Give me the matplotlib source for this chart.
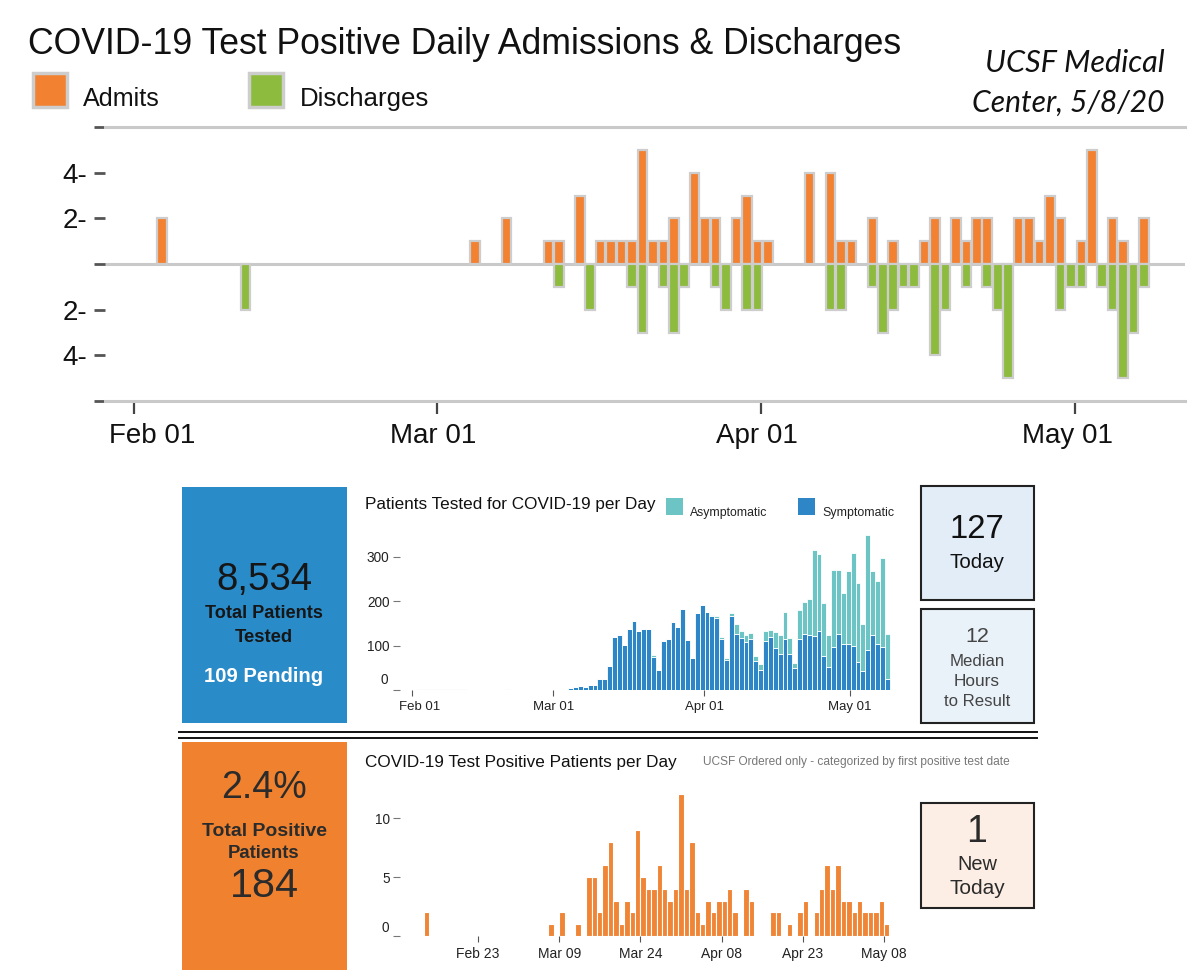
import matplotlib
matplotlib.use("Agg")
import matplotlib.pyplot as plt
import matplotlib.dates as mdates
import pandas as pd
from matplotlib.patches import Rectangle
from matplotlib.transforms import ScaledTranslation

plt.rcParams["font.family"] = ["Liberation Sans", "DejaVu Sans"]

# ── data ──
admit_dates = ["2020-02-03", "2020-03-04", "2020-03-07", "2020-03-11", "2020-03-12", "2020-03-14",
               "2020-03-16", "2020-03-17", "2020-03-18", "2020-03-19", "2020-03-20", "2020-03-21",
               "2020-03-22", "2020-03-23", "2020-03-25", "2020-03-26", "2020-03-27", "2020-03-29",
               "2020-03-30", "2020-03-31", "2020-04-01", "2020-04-05", "2020-04-07", "2020-04-08",
               "2020-04-09", "2020-04-11", "2020-04-13", "2020-04-16", "2020-04-17", "2020-04-19",
               "2020-04-20", "2020-04-21", "2020-04-22", "2020-04-25", "2020-04-26", "2020-04-27",
               "2020-04-28", "2020-04-29", "2020-05-01", "2020-05-02", "2020-05-04", "2020-05-05",
               "2020-05-07"]
admit_counts = [2, 1, 2, 1, 1, 3, 1, 1, 1, 1, 5, 1, 1, 2, 4, 2, 2, 2, 3, 1, 1, 4, 4, 1, 1, 2,
                1, 1, 2, 2, 1, 2, 2, 2, 2, 1, 3, 2, 1, 5, 2, 1, 2]

discharge_dates = ["2020-02-11", "2020-03-12", "2020-03-15", "2020-03-19", "2020-03-20", "2020-03-22",
                   "2020-03-23", "2020-03-24", "2020-03-27", "2020-03-28", "2020-03-30", "2020-03-31",
                   "2020-04-07", "2020-04-08", "2020-04-11", "2020-04-12", "2020-04-13", "2020-04-14",
                   "2020-04-15", "2020-04-17", "2020-04-18", "2020-04-20", "2020-04-22", "2020-04-23",
                   "2020-04-24", "2020-04-29", "2020-04-30", "2020-05-01", "2020-05-03", "2020-05-04",
                   "2020-05-05", "2020-05-06", "2020-05-07"]
discharge_counts = [2, 1, 2, 1, 3, 1, 3, 1, 1, 2, 2, 2, 2, 2, 1, 3, 2, 1, 1, 4, 2, 1, 1, 2, 5,
                    2, 1, 1, 1, 2, 5, 3, 1]

tested_dates = pd.date_range("2020-03-04", "2020-05-08")
tested_symptomatic = [5, 7, 9, 7, 12, 12, 25, 25, 54, 119,
                      124, 102, 138, 156, 133, 138, 138, 74, 46, 110,
                      114, 154, 141, 182, 113, 73, 174, 192, 176, 166,
                      162, 114, 68, 166, 127, 118, 108, 115, 66, 45,
                      111, 119, 95, 82, 115, 82, 49, 115, 127, 124,
                      122, 133, 76, 52, 96, 126, 103, 103, 99, 64,
                      43, 90, 124, 103, 97, 25]
tested_asymptomatic = [0, 0, 0, 0, 0, 0, 0, 0, 0, 0,
                       0, 0, 0, 0, 0, 0, 0, 4, 0, 0,
                       0, 0, 0, 0, 0, 0, 0, 0, 0, 3,
                       4, 5, 5, 8, 21, 15, 15, 14, 10, 13,
                       22, 17, 35, 41, 60, 36, 11, 66, 72, 80,
                       193, 173, 119, 72, 175, 145, 116, 164, 210, 177,
                       105, 258, 143, 143, 200, 102]
# faint near-zero marks before March
trace_dates = ["2020-02-02", "2020-02-03", "2020-02-04", "2020-02-05", "2020-02-06", "2020-02-07",
               "2020-02-08", "2020-02-09", "2020-02-10", "2020-02-11", "2020-02-20"]
trace_counts = [2, 2, 2, 2, 2, 2, 2, 2, 2, 2, 2]

positive_first_date = ["2020-02-13"]
positive_first_count = [2]
positive_dates = pd.date_range("2020-03-07", "2020-05-08")
positive_counts = [1, 0, 2, 0, 0,
                   1, 0, 5, 5, 2, 6, 8, 3, 1, 3,
                   2, 9, 5, 4, 4, 6, 4, 3, 4, 12,
                   4, 8, 2, 1, 3, 2, 3, 3, 4, 2,
                   0, 4, 3, 0, 0, 0, 2, 2, 0, 1,
                   0, 2, 3, 0, 2, 4, 6, 4, 6, 3,
                   3, 2, 3, 2, 2, 2, 3, 1]

top_ticks = ["2020-02-01", "2020-03-01", "2020-04-01", "2020-05-01"]
top_tick_labels = ["Feb 01", "Mar 01", "Apr 01", "May 01"]
pos_ticks = ["2020-02-23", "2020-03-09", "2020-03-24", "2020-04-08", "2020-04-23", "2020-05-08"]
pos_tick_labels = ["Feb 23", "Mar 09", "Mar 24", "Apr 08", "Apr 23", "May 08"]

# ── styles ──
ORANGE = "#f28131"; GREEN = "#8dbb3d"; EDGE = "#cdcdcd"; GRID = "#c9c9c9"
BLUE_BOX = "#2a8bc9"; ORANGE_BOX = "#f0822f"
SYM = "#2e86c7"; ASYM = "#6dc4c4"; POS = "#ef8535"

W, H = 1200, 976
fig = plt.figure(figsize=(W / 100, H / 100), dpi=100)
ov = fig.add_axes([0, 0, 1, 1])
ov.set_xlim(0, W); ov.set_ylim(H, 0); ov.axis("off")
RND = fig.canvas.get_renderer()


def px_axes(l, t, r, b):
    ax = fig.add_axes([l / W, 1 - b / H, (r - l) / W, (b - t) / H])
    ax.patch.set_alpha(0)
    return ax


def dnum(dates, shift=0.0):
    return mdates.date2num(pd.to_datetime(dates)) + shift


def txt(x, y, s, w=None, size=10, ha="center", **kw):
    t = ov.text(x, y, s, ha=ha, va="center", fontsize=size, **kw)
    if w:
        bw = t.get_window_extent(renderer=RND).width
        t.set_fontsize(size * w / bw)
    return t


def shift_label(lab, dx_px):
    lab.set_transform(lab.get_transform() + ScaledTranslation(dx_px / 100, 0, fig.dpi_scale_trans))


FEB1 = mdates.date2num(pd.Timestamp("2020-02-01"))

# ── header ──
txt(28, 45, "COVID-19 Test Positive Daily Admissions & Discharges", w=875, ha="left", color="#111")
ov.add_patch(Rectangle((33, 73), 34, 34, fc=ORANGE, ec=EDGE, lw=2.5))
ov.add_patch(Rectangle((249, 73), 34, 34, fc=GREEN, ec=EDGE, lw=2.5))
txt(83, 99, "Admits", w=77, ha="left", color="#111")
txt(300, 99, "Discharges", w=130, ha="left", color="#111")
txt(1165, 63, "UCSF Medical", w=180, ha="right", style="italic", family="Lato", color="#111")
txt(1165, 103, "Center, 5/8/20", w=192, ha="right", style="italic", family="Lato", color="#111")

# ── top chart: admits / discharges ──
ax1 = px_axes(105, 127, 1185, 401)
ax1.set_xlim(FEB1 - 2.78, FEB1 + 100.57)
ax1.set_ylim(-6, 6)
ax1.axhline(0, color=GRID, lw=2.2, zorder=1)
ax1.bar(dnum(admit_dates, 0.65), admit_counts, width=0.92, color=ORANGE,
        edgecolor=EDGE, linewidth=1.6, zorder=3)
ax1.bar(dnum(discharge_dates, 0.65), [-v for v in discharge_counts], width=0.92, color=GREEN,
        edgecolor=EDGE, linewidth=1.6, zorder=3)
for s in ["left", "right"]:
    ax1.spines[s].set_visible(False)
for s in ["top", "bottom"]:
    ax1.spines[s].set_color(GRID); ax1.spines[s].set_linewidth(2.2)
ax1.set_yticks([-6, -4, -2, 0, 2, 4, 6])
ax1.set_yticklabels(["", "4-", "2-", "", "2-", "4-", ""], fontsize=20, color="#111")
ax1.tick_params(axis="y", length=8, width=2, color="#555", pad=5)
ax1.set_xticks(dnum(top_ticks))
ax1.set_xticklabels(top_tick_labels, fontsize=20, color="#111")
ax1.tick_params(axis="x", length=9, width=1.6, color="#444", pad=7)
for lab, dx in zip(ax1.get_xticklabels(), [18, -4, -4, -7]):
    shift_label(lab, dx)

# ── middle row ──
ov.add_patch(Rectangle((182, 487), 165, 236, fc=BLUE_BOX, ec="none"))
txt(264, 580, "8,534", w=96, color="#161616")
txt(264, 614, "Total Patients", w=117, weight="bold", color="#161616")
txt(264, 637, "Tested", w=58, weight="bold", color="#161616")
txt(264, 676, "109 Pending", w=120, weight="bold", color="white")

txt(365, 505, "Patients Tested for COVID-19 per Day", w=290, ha="left", color="#111")
ov.add_patch(Rectangle((666, 498), 17, 17, fc=ASYM, ec="none"))
ov.add_patch(Rectangle((798, 498), 17, 17, fc=SYM, ec="none"))
txt(690, 513, "Asymptomatic", w=77, ha="left", color="#222")
txt(822, 513, "Symptomatic", w=72, ha="left", color="#222")

ax2 = px_axes(400, 530, 895, 690)
ax2.set_xlim(FEB1 - 2.46, FEB1 + 99.2)
ax2.set_ylim(0, 360)
ax2.bar(dnum(trace_dates, 0.6), trace_counts, width=1, color="#d4d4d4", edgecolor="white", lw=0.6)
xt = dnum(tested_dates, 0.6)
ax2.bar(xt, tested_symptomatic, width=1, color=SYM, edgecolor="white", lw=0.6)
ax2.bar(xt, tested_asymptomatic, bottom=tested_symptomatic, width=1, color=ASYM,
        edgecolor="white", lw=0.6)
for s in ax2.spines.values():
    s.set_visible(False)
ax2.set_yticks([0, 100, 200, 300])
ax2.set_yticklabels(["", "100", "200", "300"], fontsize=9.8, color="#222")
ax2.tick_params(axis="y", length=5, width=0.8, color="#777", pad=2.5)
ax2.set_xticks(dnum(top_ticks))
ax2.set_xticklabels(top_tick_labels, fontsize=9.5, color="#222")
ax2.tick_params(axis="x", length=4, width=0.8, color="#555", pad=4)
shift_label(ax2.get_xticklabels()[0], 8)
txt(388, 680, "0", size=9.8, ha="right", color="#222")

ov.add_patch(Rectangle((921, 486), 113, 114, fc="#e2edf7", ec="#222", lw=1.5))
txt(977, 530, "127", w=55, color="#111")
txt(977, 563, "Today", w=55, color="#111")
ov.add_patch(Rectangle((921, 609), 113, 114, fc="#e9f1f9", ec="#222", lw=1.5))
txt(977, 636, "12", w=24, color="#444")
txt(977, 662, "Median", w=55, color="#444")
txt(977, 682, "Hours", w=46, color="#444")
txt(977, 702, "to Result", w=66, color="#444")

# double separator
ov.plot([179, 1037], [732, 732], color="#111", lw=1.4)
ov.plot([179, 1037], [738, 738], color="#111", lw=1.4)

# ── bottom row ──
ov.add_patch(Rectangle((182, 742), 165, 228, fc=ORANGE_BOX, ec="none"))
txt(264, 788, "2.4%", w=86, color="#2b2b2b")
txt(264, 831, "Total Positive", w=125, weight="bold", color="#2b2b2b")
txt(264, 854, "Patients", w=72, weight="bold", color="#2b2b2b")
txt(264, 886, "184", w=69, color="#2b2b2b")

txt(365, 762, "COVID-19 Test Positive Patients per Day", w=312, ha="left", color="#111")
txt(703, 762, "UCSF Ordered only - categorized by first positive test date", w=307,
    ha="left", color="#777")

ax3 = px_axes(400, 785, 910, 936)
ax3.set_xlim(FEB1 + 7.6, FEB1 + 101.8)
ax3.set_ylim(0, 12.8)
ax3.bar(dnum(positive_first_date, 0.5), positive_first_count, width=1, color=POS,
        edgecolor="white", lw=0.8)
ax3.bar(dnum(positive_dates, 0.5), positive_counts, width=1, color=POS, edgecolor="white", lw=0.8)
for s in ax3.spines.values():
    s.set_visible(False)
ax3.set_yticks([0, 5, 10])
ax3.set_yticklabels(["", "5", "10"], fontsize=9.8, color="#222")
ax3.tick_params(axis="y", length=5, width=0.8, color="#777", pad=2.5)
ax3.set_xticks(dnum(pos_ticks))
ax3.set_xticklabels(pos_tick_labels, fontsize=10, color="#222")
ax3.tick_params(axis="x", length=4, width=0.8, color="#555", pad=4)
txt(389, 928, "0", size=9.8, ha="right", color="#222")

ov.add_patch(Rectangle((921, 803), 113, 105, fc="#fdeee5", ec="#222", lw=1.5))
txt(977, 832, "1", size=27, color="#2b2b2b")
txt(977, 864, "New", w=40, color="#2b2b2b")
txt(977, 888, "Today", w=56, color="#2b2b2b")

fig.savefig("out.png", dpi=100, facecolor="white")
